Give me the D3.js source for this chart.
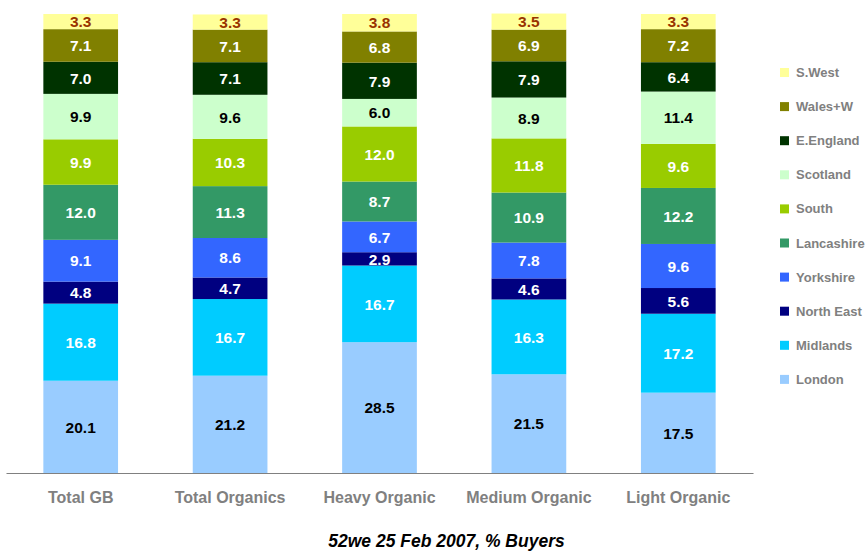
<!DOCTYPE html>
<html>
<head>
<meta charset="utf-8">
<script src="https://cdn.jsdelivr.net/npm/d3@7"></script>
<style>
  html, body { margin: 0; padding: 0; background: #fff; }
  svg { display: block; font-family: "Liberation Sans", Arial, sans-serif; }
</style>
</head>
<body>
<svg id="chart" width="867" height="551"></svg>
<script>
// Buyer groups along the x axis
const categories = ["Total GB", "Total Organics", "Heavy Organic", "Medium Organic", "Light Organic"];

// Regions, bottom of stack first
const regions = ["London", "Midlands", "North East", "Yorkshire", "Lancashire", "South", "Scotland", "E.England", "Wales+W", "S.West"];

// % of buyers per region, one value per category
const london     = [20.1, 21.2, 28.5, 21.5, 17.5];
const midlands   = [16.8, 16.7, 16.7, 16.3, 17.2];
const northEast  = [4.8, 4.7, 2.9, 4.6, 5.6];
const yorkshire  = [9.1, 8.6, 6.7, 7.8, 9.6];
const lancashire = [12.0, 11.3, 8.7, 10.9, 12.2];
const south      = [9.9, 10.3, 12.0, 11.8, 9.6];
const scotland   = [9.9, 9.6, 6.0, 8.9, 11.4];
const eEngland   = [7.0, 7.1, 7.9, 7.9, 6.4];
const walesW     = [7.1, 7.1, 6.8, 6.9, 7.2];
const sWest      = [3.3, 3.3, 3.8, 3.5, 3.3];

const seriesValues = [london, midlands, northEast, yorkshire, lancashire, south, scotland, eEngland, walesW, sWest];

const colors = ["#99CCFF", "#00CCFF", "#000080", "#3366FF", "#339966", "#99CC00", "#CCFFCC", "#003300", "#808000", "#FFFF99"];
const labelColors = ["#000000", "#ffffff", "#ffffff", "#ffffff", "#ffffff", "#ffffff", "#000000", "#ffffff", "#ffffff", "#993300"];

const title = "52we 25 Feb 2007, % Buyers";

// Build rows for d3.stack
const rows = categories.map((c, i) => {
  const r = { category: c };
  regions.forEach((g, k) => { r[g] = seriesValues[k][i]; });
  return r;
});
const stacked = d3.stack().keys(regions)(rows);

const svg = d3.select("#chart");

const x = d3.scaleBand()
  .domain(categories)
  .range([6, 753])
  .paddingInner(0.5)
  .paddingOuter(0.25);

const y = d3.scaleLinear()
  .domain([0, 100])
  .range([473, 14]);

// Stacked segments
const layers = svg.append("g").selectAll("g")
  .data(stacked)
  .join("g")
  .attr("fill", (d, i) => colors[i]);

layers.selectAll("rect")
  .data(d => d)
  .join("rect")
  .attr("x", d => x(d.data.category))
  .attr("width", x.bandwidth())
  .attr("y", d => y(d[1]))
  .attr("height", d => y(d[0]) - y(d[1]));

// Value labels centred in each segment
const labelLayers = svg.append("g").selectAll("g")
  .data(stacked)
  .join("g")
  .attr("fill", (d, i) => labelColors[i]);

labelLayers.selectAll("text")
  .data(d => d.map(s => ({ s, key: d.key })))
  .join("text")
  .attr("x", d => x(d.s.data.category) + x.bandwidth() / 2)
  .attr("y", d => (y(d.s[0]) + y(d.s[1])) / 2)
  .attr("dy", "0.37em")
  .attr("text-anchor", "middle")
  .attr("font-size", 15.5)
  .attr("font-weight", "bold")
  .text(d => d.s.data[d.key].toFixed(1));

// Category axis
const xAxis = svg.append("g")
  .attr("transform", `translate(0,${y(0)})`)
  .call(d3.axisBottom(x).tickSize(0).tickPadding(19));
xAxis.select(".domain").attr("stroke", "#808080").attr("stroke-width", 1.2);
xAxis.selectAll("text")
  .attr("fill", "#808080")
  .attr("font-size", 16)
  .attr("font-weight", "bold")
  .attr("font-family", "Liberation Sans, Arial, sans-serif");

// Legend, top entry = top of stack
const legendItems = regions.slice().reverse();
const legendColors = colors.slice().reverse();
const legend = svg.append("g").selectAll("g")
  .data(legendItems)
  .join("g")
  .attr("transform", (d, i) => `translate(780,${68 + i * 34.1})`);
legend.append("rect")
  .attr("width", 9)
  .attr("height", 9)
  .attr("fill", (d, i) => legendColors[i]);
legend.append("text")
  .attr("x", 16)
  .attr("y", 9)
  .attr("fill", "#808080")
  .attr("font-size", 13)
  .attr("font-weight", "bold")
  .text(d => d);

// Title under the chart
svg.append("text")
  .attr("x", 446.5)
  .attr("y", 547)
  .attr("text-anchor", "middle")
  .attr("font-size", 17.5)
  .attr("font-weight", "bold")
  .attr("font-style", "italic")
  .attr("fill", "#000")
  .text(title);
</script>
</body>
</html>
